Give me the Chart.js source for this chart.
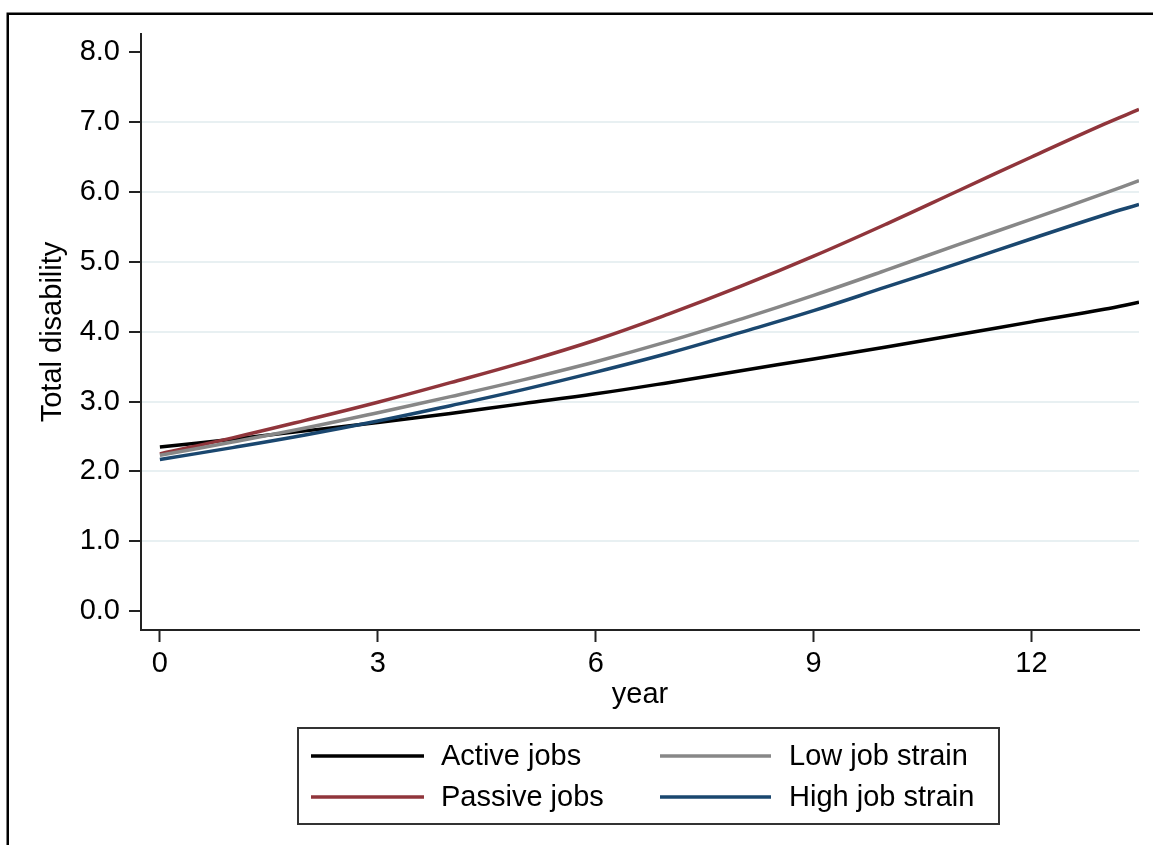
<!DOCTYPE html>
<html>
<head>
<meta charset="utf-8">
<title>Total disability by job type</title>
<script src="https://cdn.jsdelivr.net/npm/chart.js@4/dist/chart.umd.min.js"></script>
<style>
  html, body { margin: 0; padding: 0; background: #ffffff; overflow: hidden; }
  #wrap { position: relative; width: 1153px; height: 845px; }
</style>
</head>
<body>
<div id="wrap"><canvas id="chart" width="1153" height="845"></canvas></div>
<script>
// Predicted total disability over follow-up, by job category
const years = [0, 1, 2, 3, 4, 5, 6, 7, 8, 9, 10, 11, 12, 13, 13.48];
const activeJobs    = [2.35, 2.46, 2.58, 2.70, 2.83, 2.97, 3.11, 3.27, 3.44, 3.61, 3.78, 3.96, 4.14, 4.32, 4.42];
const passiveJobs   = [2.25, 2.48, 2.73, 2.99, 3.27, 3.56, 3.88, 4.25, 4.65, 5.08, 5.54, 6.02, 6.50, 6.97, 7.18];
const lowJobStrain  = [2.23, 2.42, 2.62, 2.84, 3.07, 3.31, 3.57, 3.86, 4.18, 4.52, 4.88, 5.25, 5.61, 5.98, 6.16];
const highJobStrain = [2.17, 2.34, 2.52, 2.72, 2.94, 3.17, 3.42, 3.69, 3.99, 4.30, 4.64, 4.98, 5.33, 5.67, 5.82];

const seriesLabels = ['Active jobs', 'Passive jobs', 'Low job strain', 'High job strain'];
const seriesColors = ['#000000', '#90353b', '#878787', '#1a476f'];

const xTicks = [0, 3, 6, 9, 12];
const yTicks = [0, 1, 2, 3, 4, 5, 6, 7, 8];

const FONT = '"Liberation Sans", Arial, Helvetica, sans-serif';
const FONT_SIZE = 29;

function points(values) {
  return values.map((v, i) => ({ x: years[i], y: v }));
}

const allSeries = [activeJobs, passiveJobs, lowJobStrain, highJobStrain];

// Outer frame around the whole graph
const framePlugin = {
  id: 'frame',
  beforeDraw(chart) {
    const ctx = chart.ctx;
    ctx.save();
    ctx.fillStyle = '#ffffff';
    ctx.fillRect(0, 0, chart.width, chart.height);
    ctx.strokeStyle = '#000000';
    ctx.lineWidth = 2.5;
    ctx.strokeRect(7.75, 13.75, 1400, 1000);
    ctx.restore();
  }
};

// Boxed two-column legend below the plot
const boxLegendPlugin = {
  id: 'boxLegend',
  afterDraw(chart) {
    const ctx = chart.ctx;
    ctx.save();
    ctx.strokeStyle = '#333333';
    ctx.lineWidth = 2;
    ctx.strokeRect(298, 728, 701, 96);
    const sampleX = [311, 660];
    const sampleLen = [113, 111];
    const textX = [441, 789];
    const rowY = [756, 797];
    ctx.font = FONT_SIZE + 'px ' + FONT;
    ctx.textBaseline = 'middle';
    ctx.textAlign = 'left';
    chart.data.datasets.forEach((ds, i) => {
      const col = Math.floor(i / 2);
      const row = i % 2;
      ctx.strokeStyle = ds.borderColor;
      ctx.lineWidth = 3.5;
      ctx.beginPath();
      ctx.moveTo(sampleX[col], rowY[row]);
      ctx.lineTo(sampleX[col] + sampleLen[col], rowY[row]);
      ctx.stroke();
      ctx.fillStyle = '#000000';
      ctx.fillText(ds.label, textX[col], rowY[row] + 1);
    });
    ctx.restore();
  }
};

const datasets = allSeries.map((vals, i) => ({
  label: seriesLabels[i],
  data: points(vals),
  borderColor: seriesColors[i],
  backgroundColor: seriesColors[i],
  borderWidth: 3.5,
  pointRadius: 0,
  fill: false,
  tension: 0.4,
  order: allSeries.length - i
}));

new Chart(document.getElementById('chart'), {
  type: 'line',
  data: { datasets },
  plugins: [framePlugin, boxLegendPlugin],
  options: {
    responsive: false,
    animation: false,
    devicePixelRatio: 1,
    layout: { padding: { left: 0, top: 34, right: 14, bottom: 115 } },
    plugins: {
      legend: { display: false },
      tooltip: { enabled: false }
    },
    scales: {
      x: {
        type: 'linear',
        min: -0.26,
        max: 13.48,
        afterBuildTicks(scale) { scale.ticks = xTicks.map(v => ({ value: v })); },
        afterFit(scale) { scale.height = 100; },
        border: { display: true, color: '#222222', width: 2 },
        grid: {
          drawOnChartArea: false,
          drawTicks: true,
          tickLength: 12,
          tickColor: '#222222',
          tickWidth: 2
        },
        ticks: {
          color: '#000000',
          padding: 5,
          maxRotation: 0,
          font: { family: FONT, size: FONT_SIZE },
          callback: v => String(v)
        },
        title: {
          display: true,
          text: 'year',
          color: '#000000',
          font: { family: FONT, size: FONT_SIZE },
          padding: { top: 0, bottom: 18 }
        }
      },
      y: {
        type: 'linear',
        min: -0.27,
        max: 8.26,
        afterBuildTicks(scale) { scale.ticks = yTicks.map(v => ({ value: v })); },
        afterFit(scale) { scale.width = 141; },
        border: { display: true, color: '#222222', width: 2 },
        grid: {
          drawOnChartArea: true,
          drawTicks: true,
          tickLength: 12,
          tickColor: '#222222',
          tickWidth: 2,
          lineWidth: 2,
          color: ctx => (ctx.tick && (ctx.tick.value === 0 || ctx.tick.value === 8)) ? 'rgba(0,0,0,0)' : '#e8f0f2'
        },
        ticks: {
          color: '#000000',
          padding: 9,
          font: { family: FONT, size: FONT_SIZE },
          callback: v => Number(v).toFixed(1)
        },
        title: {
          display: true,
          text: 'Total disability',
          color: '#000000',
          font: { family: FONT, size: FONT_SIZE },
          padding: { top: 36, bottom: 0 }
        }
      }
    }
  }
});
</script>
</body>
</html>
